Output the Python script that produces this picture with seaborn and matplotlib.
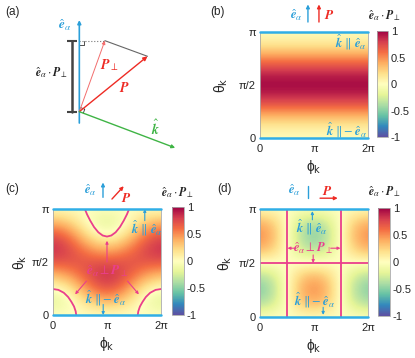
import numpy as np
import matplotlib
matplotlib.use("Agg")
import matplotlib.pyplot as plt
import seaborn as sns

PI = np.pi

# axis ticks
phi_ticks = [0, PI, 2 * PI]
phi_labels = ["0", "π", "2π"]
theta_ticks = [0, PI / 2, PI]
theta_labels = ["0", "π/2", "π"]
cbar_ticks = [-1, -0.5, 0, 0.5, 1]
cbar_labels = ["-1", "-0.5", "0", "0.5", "1"]

# values: rows theta = 0..pi (step pi/8), columns phi = 0..2pi (step pi/4)
theta_step = PI / 8
phi_step = PI / 4

# (b) P along e_alpha: only depends on theta
b_profile = [0.00, 0.15, 0.50, 0.85, 1.00, 0.85, 0.50, 0.15, 0.00]

# (c) P tilted by 45 degrees
c_values = [
    [0.00, 0.00, 0.00, 0.00, 0.00, 0.00, 0.00, 0.00, 0.00],
    [-0.20, -0.10, 0.10, 0.28, 0.35, 0.28, 0.10, -0.10, -0.20],
    [0.00, 0.10, 0.35, 0.60, 0.71, 0.60, 0.35, 0.10, 0.00],
    [0.35, 0.43, 0.60, 0.78, 0.87, 0.78, 0.60, 0.43, 0.35],
    [0.71, 0.71, 0.71, 0.71, 0.71, 0.71, 0.71, 0.71, 0.71],
    [0.87, 0.78, 0.60, 0.43, 0.35, 0.43, 0.60, 0.78, 0.87],
    [0.71, 0.60, 0.35, 0.10, 0.00, 0.10, 0.35, 0.60, 0.71],
    [0.35, 0.28, 0.10, -0.10, -0.20, -0.10, 0.10, 0.28, 0.35],
    [0.00, 0.00, 0.00, 0.00, 0.00, 0.00, 0.00, 0.00, 0.00],
]

# (d) P perpendicular to e_alpha
d_values = [
    [0.00, 0.00, 0.00, 0.00, 0.00, 0.00, 0.00, 0.00, 0.00],
    [-0.38, -0.27, 0.00, 0.27, 0.38, 0.27, 0.00, -0.27, -0.38],
    [-0.52, -0.37, 0.00, 0.37, 0.52, 0.37, 0.00, -0.37, -0.52],
    [-0.38, -0.27, 0.00, 0.27, 0.38, 0.27, 0.00, -0.27, -0.38],
    [0.00, 0.00, 0.00, 0.00, 0.00, 0.00, 0.00, 0.00, 0.00],
    [0.38, 0.27, 0.00, -0.27, -0.38, -0.27, 0.00, 0.27, 0.38],
    [0.52, 0.37, 0.00, -0.37, -0.52, -0.37, 0.00, 0.37, 0.52],
    [0.38, 0.27, 0.00, -0.27, -0.38, -0.27, 0.00, 0.27, 0.38],
    [0.00, 0.00, 0.00, 0.00, 0.00, 0.00, 0.00, 0.00, 0.00],
]

# zero lines (e_alpha perp P_perp), in units of pi
c_top_phi = [0.59, 0.63, 0.69, 0.76, 0.84, 0.92, 1.00, 1.08, 1.16, 1.24, 1.31, 1.37, 1.41]
c_top_theta = [1.00, 0.95, 0.89, 0.83, 0.78, 0.75, 0.74, 0.75, 0.78, 0.83, 0.89, 0.95, 1.00]
c_bl_phi = [0.00, 0.10, 0.20, 0.28, 0.34, 0.39, 0.42, 0.43]
c_bl_theta = [0.245, 0.237, 0.21, 0.17, 0.125, 0.08, 0.035, 0.00]
c_br_phi = [2.00, 1.90, 1.80, 1.72, 1.66, 1.61, 1.58, 1.57]
c_br_theta = [0.245, 0.237, 0.21, 0.17, 0.125, 0.08, 0.035, 0.00]
d_zero_phi = [0.5, 1.5]
d_zero_theta = [0.5]

# panel (a) vectors, e_alpha along y
p_vec = np.array([0.96, 0.78])
p_perp_vec = np.array([0.36, 1.00])
k_vec = np.array([1.35, -0.51])
e_span = [-0.16, 1.29]

BLUE = "#2b9fd9"
LINE_BLUE = "#30aee6"
RED = "#ee2b24"
PINK = "#ea3f8c"
GREEN = "#3fb445"

sns.set_theme(style="white")
plt.rcParams["font.family"] = ["Liberation Sans", "DejaVu Sans"]
plt.rcParams["mathtext.fontset"] = "stix"
cmap = sns.color_palette("Spectral_r", as_cmap=True)

E_HAT = r"$\hat{\mathbfit{e}}_{\alpha}$"
DOT_LABEL = r"$\hat{\mathbfit{e}}_{\alpha}\cdot\mathbfit{P}_{\perp}$"

fig = plt.figure(figsize=(4.15, 3.58), dpi=100)


def arrow(ax, tail, tip, color, lw=0.8, head=5, coords="data"):
    ax.annotate("", xy=tip, xytext=tail, xycoords=coords, textcoords=coords,
                arrowprops=dict(arrowstyle="-|>", color=color, lw=lw,
                                mutation_scale=head, shrinkA=0, shrinkB=0),
                annotation_clip=False)


def draw_map(rect, crect, grid):
    ax = fig.add_axes(rect)
    cax = fig.add_axes(crect)
    grid = np.asarray(grid)
    ext = [-phi_step / 2, 2 * PI + phi_step / 2, -theta_step / 2, PI + theta_step / 2]
    im = ax.imshow(grid, origin="lower", cmap=cmap, vmin=-1, vmax=1, extent=ext,
                   aspect="auto", interpolation="bicubic")
    ax.set_xlim(0, 2 * PI)
    ax.set_ylim(0, PI)
    ax.set_xticks(phi_ticks)
    ax.set_xticklabels(phi_labels)
    ax.set_yticks(theta_ticks)
    ax.set_yticklabels(theta_labels)
    ax.tick_params(direction="in", length=2, width=0.5, color="#999999",
                   labelsize=8, pad=3)
    ax.tick_params(axis="x", pad=4)
    for s in ax.spines.values():
        s.set_color("#aaaaaa")
        s.set_linewidth(0.6)
    ax.axhline(0, color=LINE_BLUE, lw=1.8, clip_on=False, zorder=5)
    ax.axhline(PI, color=LINE_BLUE, lw=1.8, clip_on=False, zorder=5)
    cb = fig.colorbar(im, cax=cax, ticks=cbar_ticks)
    cb.ax.set_yticklabels(cbar_labels)
    cb.ax.tick_params(length=0, labelsize=8, pad=2)
    cb.outline.set_edgecolor("#aaaaaa")
    cb.outline.set_linewidth(0.6)
    ax.text(1.15, 1.16, DOT_LABEL, transform=ax.transAxes, ha="center",
            va="center", fontsize=8.5)
    return ax


def axis_labels(ax, xy_x, xy_y):
    ax.text(0.5, xy_x, r"ϕ$_\mathrm{k}$", transform=ax.transAxes, ha="center",
            va="center", fontsize=10, math_fontfamily="dejavusans")
    ax.text(xy_y, 0.5, r"θ$_\mathrm{k}$", transform=ax.transAxes, ha="center",
            va="center", fontsize=10, rotation=90, math_fontfamily="dejavusans")


# ---------- panel (a) ----------
axa = fig.add_axes([0, 0.5112, 0.494, 0.4888])
axa.set_xlim(-1.117, 1.770)
axa.set_ylim(-0.892, 1.573)
axa.axis("off")
arrow(axa, (0, e_span[0]), (0, e_span[1]), BLUE, lw=1.2, head=5)
axa.plot([-0.107, -0.107], [0, p_perp_vec[1]], color="#444444", lw=1.8,
         marker="_", markersize=7, mew=1.5)
axa.plot([0, p_perp_vec[0]], [p_perp_vec[1]] * 2, color="#777777", lw=0.8, ls=":")
axa.plot([p_perp_vec[0], p_vec[0]], [p_perp_vec[1], p_vec[1]], color="#666666", lw=0.8)
arrow(axa, (0, 0), tuple(p_perp_vec), "#f26d6d", lw=0.7, head=5)
arrow(axa, (0, 0), tuple(p_vec), RED, lw=1.0, head=6)
arrow(axa, (0, 0), tuple(k_vec), GREEN, lw=1.0, head=5)
s = 0.06
axa.plot([0, s, s], [p_perp_vec[1] - s, p_perp_vec[1] - s, p_perp_vec[1]],
         color="#333333", lw=0.6)
u1 = p_perp_vec / np.linalg.norm(p_perp_vec) * s
u2 = k_vec / np.linalg.norm(k_vec) * s
corner = np.array([u1, u1 + u2, u2])
axa.plot(corner[:, 0], corner[:, 1], color="#333333", lw=0.6)
axa.text(-0.21, 1.21, E_HAT, color=BLUE, fontsize=9.5, ha="center", va="center")
axa.text(-0.385, 0.545, DOT_LABEL, color="#222222", fontsize=8.5, ha="center", va="center")
axa.text(0.43, 0.66, r"$\mathbfit{P}_{\perp}$", color=RED, fontsize=10, ha="center", va="center")
axa.text(0.64, 0.33, r"$\mathbfit{P}$", color=RED, fontsize=10, ha="center", va="center")
axa.text(1.07, -0.23, r"$\hat{\mathbfit{k}}$", color=GREEN, fontsize=10, ha="center", va="center")

# ---------- panel (b) ----------
b_grid = np.tile(np.array(b_profile)[:, None], (1, len(c_values[0])))
axb = draw_map([0.6265, 0.6145, 0.2602, 0.2961], [0.9084, 0.6173, 0.0265, 0.2961], b_grid)
axis_labels(axb, -0.27, -0.36)
axb.text(0.34, 1.16, E_HAT, color=BLUE, transform=axb.transAxes, ha="center", va="center", fontsize=9)
arrow(axb, (0.444, 1.094), (0.444, 1.26), BLUE, lw=1.0, head=5, coords="axes fraction")
arrow(axb, (0.546, 1.094), (0.546, 1.26), RED, lw=1.0, head=5, coords="axes fraction")
axb.text(0.64, 1.16, r"$\mathbfit{P}$", color=RED, transform=axb.transAxes, ha="center", va="center", fontsize=9.5)
axb.text(1.98 * PI, 0.90 * PI, r"$\hat{\mathbfit{k}}\ \Vert\ \hat{\mathbfit{e}}_{\alpha}$",
         color=BLUE, ha="right", va="center", fontsize=9)
axb.text(1.98 * PI, 0.07 * PI, r"$\hat{\mathbfit{k}}\ \Vert -\hat{\mathbfit{e}}_{\alpha}$",
         color=BLUE, ha="right", va="center", fontsize=9)

# ---------- panel (c) ----------
axc = draw_map([0.1277, 0.1201, 0.2602, 0.2961], [0.4145, 0.1201, 0.0289, 0.3017], c_values)
axis_labels(axc, -0.27, -0.30)
for ph, th in [(c_top_phi, c_top_theta), (c_bl_phi, c_bl_theta), (c_br_phi, c_br_theta)]:
    axc.plot(np.array(ph) * PI, np.array(th) * PI, color=PINK, lw=1.3)
axc.text(0.343, 1.18, E_HAT, color=BLUE, transform=axc.transAxes, ha="center", va="center", fontsize=9)
arrow(axc, (0.463, 1.11), (0.463, 1.25), BLUE, lw=1.0, head=5, coords="axes fraction")
arrow(axc, (0.546, 1.094), (0.655, 1.215), RED, lw=1.0, head=5, coords="axes fraction")
axc.text(0.68, 1.10, r"$\mathbfit{P}$", color=RED, transform=axc.transAxes, ha="center", va="center", fontsize=9.5)
axc.text(1.0 * PI, 0.41 * PI, r"$\hat{\mathbfit{e}}_{\alpha}\perp\mathbfit{P}_{\perp}$",
         color=PINK, ha="center", va="center", fontsize=9.5)
arrow(axc, (1.0 * PI, 0.50 * PI), (1.0 * PI, 0.70 * PI), PINK, lw=0.8, head=4)
arrow(axc, (0.62 * PI, 0.32 * PI), (0.41 * PI, 0.195 * PI), PINK, lw=0.8, head=4)
arrow(axc, (1.38 * PI, 0.32 * PI), (1.59 * PI, 0.195 * PI), PINK, lw=0.8, head=4)
axc.text(0.97 * PI, 0.16 * PI, r"$\hat{\mathbfit{k}}\ \Vert -\hat{\mathbfit{e}}_{\alpha}$",
         color=BLUE, ha="center", va="center", fontsize=9)
arrow(axc, (0.93 * PI, 0.10 * PI), (0.93 * PI, 0.0), BLUE, lw=0.8, head=4)
axc.text(1.74 * PI, 0.82 * PI, r"$\hat{\mathbfit{k}}\ \Vert\ \hat{\mathbfit{e}}_{\alpha}$",
         color=BLUE, ha="center", va="center", fontsize=9)
arrow(axc, (1.70 * PI, 0.89 * PI), (1.70 * PI, 1.0 * PI), BLUE, lw=0.8, head=4)

# ---------- panel (d) ----------
axd = draw_map([0.6265, 0.1145, 0.2602, 0.3017], [0.9108, 0.1173, 0.0289, 0.3017], d_values)
axis_labels(axd, -0.27, -0.32)
for ph in d_zero_phi:
    axd.axvline(ph * PI, color=PINK, lw=1.3)
for th in d_zero_theta:
    axd.axhline(th * PI, color=PINK, lw=1.3)
axd.text(0.315, 1.175, E_HAT, color=BLUE, transform=axd.transAxes, ha="center", va="center", fontsize=9)
axd.plot([0.444, 0.444], [1.10, 1.21], color=BLUE, lw=1.0, transform=axd.transAxes, clip_on=False)
arrow(axd, (0.556, 1.10), (0.72, 1.10), RED, lw=1.0, head=5, coords="axes fraction")
axd.text(0.62, 1.16, r"$\mathbfit{P}$", color=RED, transform=axd.transAxes, ha="center", va="center", fontsize=9.5)
axd.text(0.96 * PI, 0.83 * PI, r"$\hat{\mathbfit{k}}\ \Vert\ \hat{\mathbfit{e}}_{\alpha}$",
         color=BLUE, ha="center", va="center", fontsize=9)
arrow(axd, (0.97 * PI, 0.90 * PI), (0.97 * PI, 0.98 * PI), BLUE, lw=0.8, head=4)
axd.text(0.985 * PI, 0.637 * PI, r"$\hat{\mathbfit{e}}_{\alpha}\perp\mathbfit{P}_{\perp}$",
         color=PINK, ha="center", va="center", fontsize=9)
arrow(axd, (0.66 * PI, 0.637 * PI), (0.51 * PI, 0.637 * PI), PINK, lw=0.8, head=4)
arrow(axd, (1.31 * PI, 0.637 * PI), (1.49 * PI, 0.637 * PI), PINK, lw=0.8, head=4)
arrow(axd, (0.985 * PI, 0.575 * PI), (0.985 * PI, 0.50 * PI), PINK, lw=0.8, head=4)
axd.text(1.0 * PI, 0.155 * PI, r"$\hat{\mathbfit{k}}\ \Vert -\hat{\mathbfit{e}}_{\alpha}$",
         color=BLUE, ha="center", va="center", fontsize=9)
arrow(axd, (1.17 * PI, 0.09 * PI), (1.17 * PI, 0.02 * PI), BLUE, lw=0.8, head=4)

# panel letters
for lab, x, y in [("(a)", 0.029, 0.966), ("(b)", 0.525, 0.966),
                  ("(c)", 0.029, 0.472), ("(d)", 0.54, 0.472)]:
    fig.text(x, y, lab, fontsize=8.5, ha="center", va="center")

fig.savefig("out.png", dpi=100)
